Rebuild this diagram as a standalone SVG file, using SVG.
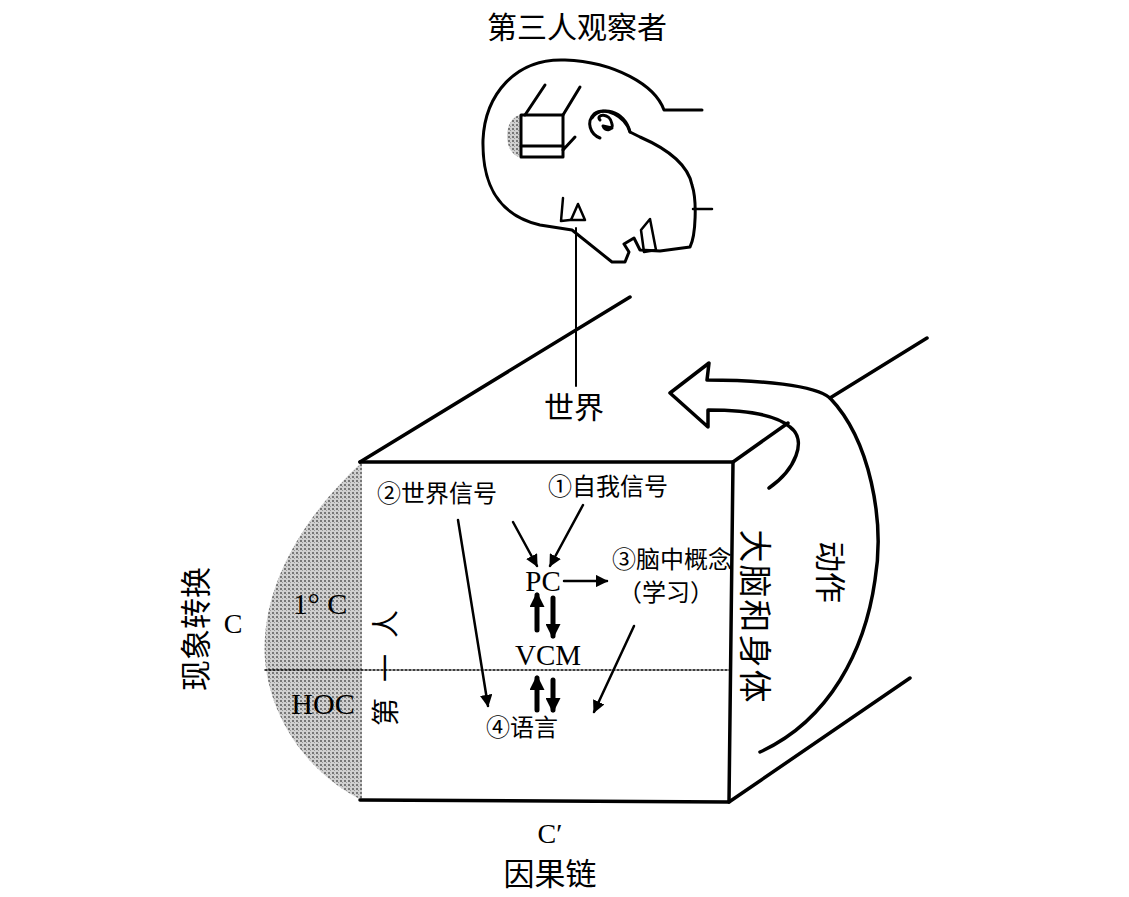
<svg xmlns="http://www.w3.org/2000/svg" width="1129" height="897" viewBox="0 0 1129 897">
<defs>
<pattern id="dots" width="4" height="4" patternUnits="userSpaceOnUse">
<rect width="4" height="4" fill="#d0d0d0"/>
<rect x="0" y="0" width="2" height="2" fill="#777"/>
<rect x="2" y="2" width="1" height="1" fill="#999"/>
</pattern>
<marker id="ah" viewBox="0 0 10 10" refX="9" refY="5" markerWidth="5" markerHeight="5" orient="auto"><path d="M0,0 L10,5 L0,10 z" fill="#000"/></marker>
<marker id="bh" viewBox="0 0 10 10" refX="8" refY="5" markerWidth="3" markerHeight="3" orient="auto"><path d="M0,0 L10,5 L0,10 z" fill="#000"/></marker>
</defs>
<style>
.t{font-family:"Liberation Serif","Noto Sans CJK SC",serif;fill:#000}
.s{fill:none;stroke:#000;stroke-linecap:round;stroke-linejoin:round}
</style>
<rect width="1129" height="897" fill="#fff"/>
<g id="head">
<path class="s" stroke-width="3" d="M702,110 L664,110 C655,85 615,62 565,60 C515,58 485,95 483,140 C482,185 498,215 540,225 L572,230 L612,262 L625,262 L629,252 L624,244 L634,238 L640,250 L660,251 L690,247 C696,235 697,200 692,185 C688,165 670,150 640,137 L630,132 C625,110 600,105 592,118"/>
<path class="s" stroke-width="3" d="M630,132 C625,116 605,106 594,114 C586,122 590,134 600,138 M600,120 C595,114 610,112 612,124 C614,130 605,132 603,126 L612,128"/>
<path class="s" stroke-width="2.5" d="M693,209 L712,209"/>
<path d="M521,115 A14,21 0 0 0 521,157 Z" fill="url(#dots)"/>
<rect x="521" y="115" width="42" height="42" class="s" stroke-width="3"/>
<path class="s" stroke-width="3" d="M521,146 L563,146 M525,115 L545,85 M563,115 L580,87 M563,150 L575,137"/>
<path class="s" stroke-width="2.5" d="M563,198 L561,221 L570,220 M571,220 L578,204 L585,220 Z M641,230 L650,219 L656,250 L644,252 Z"/>
<path class="s" stroke-width="2" d="M576,228 L576,386"/>
</g>
<g id="box">
<path d="M362,462 C300,520 260,590 265,660 C270,720 310,775 362,800 Z" fill="url(#dots)"/>
<path class="s" stroke-width="3.5" d="M360,462 L733,462 L729,802 L360,800"/>
<path class="s" stroke-width="3.5" d="M360,462 L630,297 M733,462 L788,423 M729,802 L910,678 M830,398 L927,338"/>
<path class="s" stroke-width="1.5" stroke-dasharray="2,2" d="M265,670 L731,670"/>
</g>
<g id="action-arrow">
<path class="s" stroke-width="3.5" fill="#fff" d="M769,488 C795,470 808,440 790,427 C780,418 760,410 708,410 L708,427 L670,393 L709,363 L707,380 C760,380 815,385 830,398 C870,440 885,520 875,580 C865,650 830,720 760,752"/>
</g>
<g id="connectors">
<path class="s" stroke-width="2.5" marker-end="url(#ah)" d="M458,520 L488,706"/>
<path class="s" stroke-width="2.5" marker-end="url(#ah)" d="M513,522 L537,566"/>
<path class="s" stroke-width="2.5" marker-end="url(#ah)" d="M583,505 L550,566"/>
<path class="s" stroke-width="2.5" marker-end="url(#ah)" d="M564,581 L607,581"/>
<path class="s" stroke-width="2.5" marker-end="url(#ah)" d="M634,626 L594,712"/>
<path class="s" stroke-width="5" marker-end="url(#bh)" d="M537,630 L537,595"/>
<path class="s" stroke-width="5" marker-end="url(#bh)" d="M553,598 L553,636"/>
<path class="s" stroke-width="5" marker-end="url(#bh)" d="M537,710 L537,678"/>
<path class="s" stroke-width="5" marker-end="url(#bh)" d="M553,680 L553,710"/>
</g>
<g id="labels">
<text class="t" x="577" y="38" font-size="30" text-anchor="middle">第三人观察者</text>
<text class="t" x="574" y="418" font-size="30" text-anchor="middle">世界</text>
<text class="t" x="437" y="502" font-size="24" text-anchor="middle">②世界信号</text>
<text class="t" x="608" y="495" font-size="24" text-anchor="middle">①自我信号</text>
<text class="t" x="543" y="591" font-size="29" text-anchor="middle">PC</text>
<text class="t" x="672" y="568" font-size="24" text-anchor="middle">③脑中概念</text>
<text class="t" x="666" y="601" font-size="24" text-anchor="middle">（学习）</text>
<text class="t" x="548" y="665" font-size="29" text-anchor="middle">VCM</text>
<text class="t" x="522" y="736" font-size="24" text-anchor="middle">④语言</text>
<text class="t" x="320" y="614" font-size="30" text-anchor="middle">1° C</text>
<text class="t" x="323" y="714" font-size="30" text-anchor="middle">HOC</text>
<text class="t" x="233" y="633" font-size="28" text-anchor="middle">C</text>
<text class="t" x="550" y="843" font-size="28" text-anchor="middle">C′</text>
<text class="t" x="550" y="885" font-size="31" text-anchor="middle">因果链</text>
<text class="t" font-size="31" text-anchor="middle" transform="translate(207,629) rotate(-90)">现象转换</text>
<text class="t" font-size="28" letter-spacing="16" text-anchor="middle" transform="translate(396,660) rotate(-90)">第一人</text>
<text class="t" font-size="33" letter-spacing="2" text-anchor="middle" transform="translate(743,617) rotate(90)">大脑和身体</text>
<text class="t" font-size="31" text-anchor="middle" transform="translate(819,572) rotate(90)">动作</text>
</g>
</svg>
